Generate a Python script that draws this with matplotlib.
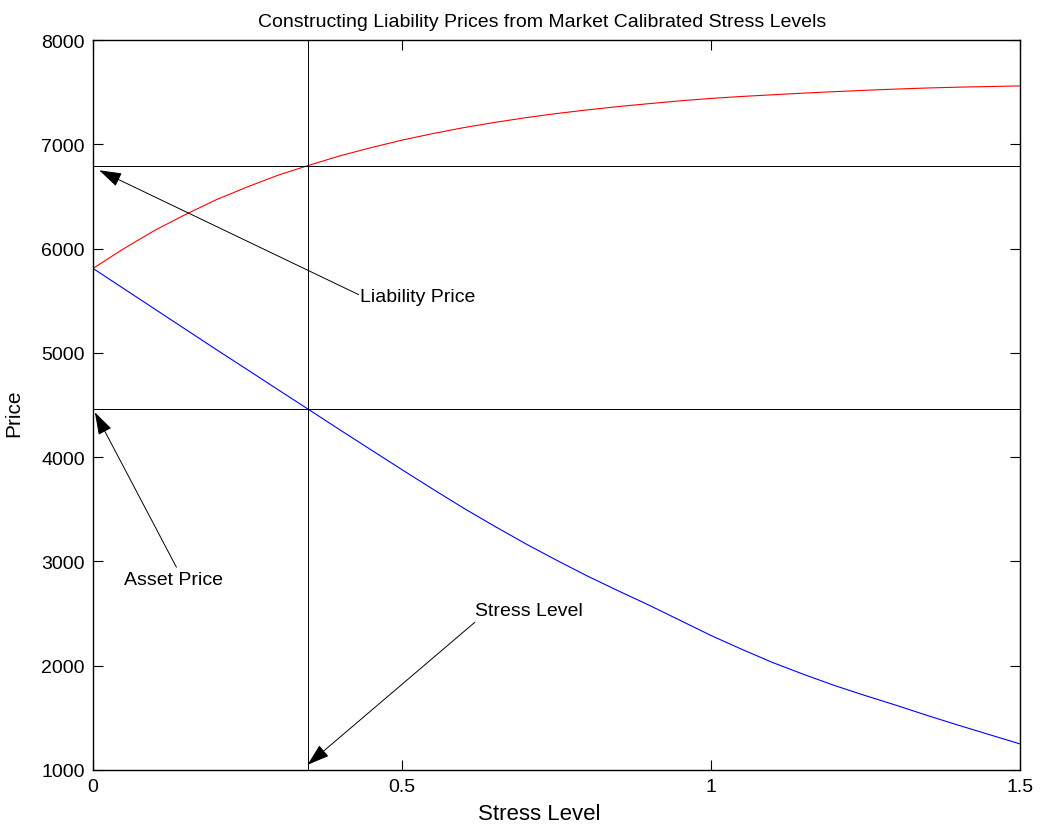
"""
Liability prices constructed from market calibrated stress levels.
Asset price (blue) and liability price (red) against the stress level,
with the calibrated stress level and the two read-off prices marked.
"""

import matplotlib
matplotlib.use("Agg")
import matplotlib.pyplot as plt

# ============================== DATA ==============================
stress = [0.00, 0.05, 0.10, 0.15, 0.20, 0.25, 0.30, 0.35, 0.40, 0.45, 0.50,
          0.55, 0.60, 0.65, 0.70, 0.75, 0.80, 0.85, 0.90, 0.95, 1.00,
          1.05, 1.10, 1.15, 1.20, 1.25, 1.30, 1.35, 1.40, 1.45, 1.50]
liability_price = [5810, 6000, 6175, 6328, 6470, 6592, 6705, 6800, 6890, 6968, 7040,
                   7103, 7160, 7210, 7255, 7295, 7330, 7362, 7390, 7417, 7440,
                   7459, 7475, 7491, 7505, 7518, 7530, 7540, 7548, 7554, 7560]
asset_price = [5810, 5615, 5420, 5225, 5030, 4838, 4645, 4453, 4260, 4070, 3880,
               3693, 3510, 3337, 3170, 3012, 2860, 2718, 2580, 2435, 2290,
               2157, 2030, 1917, 1810, 1713, 1620, 1523, 1430, 1340, 1250]

calibrated_stress = 0.348
calibrated_liability = 6790
market_asset = 4462

# annotations: arrow tip and arrow tail (text sits at the tail)
liab_tip, liab_tail = (0.010, 6751), (0.430, 5558)
asset_tip, asset_tail = (0.003, 4430), (0.135, 2944)
stress_tip, stress_tail = (0.347, 1049), (0.618, 2417)

# ============================== STYLE ==============================
plt.rcParams['font.family'] = ['Liberation Sans', 'DejaVu Sans']
plt.rcParams['xtick.direction'] = 'in'
plt.rcParams['ytick.direction'] = 'in'

fig = plt.figure(figsize=(10.45, 8.29), dpi=100)
ax = fig.add_axes([0.089, 0.070, 0.887, 0.8805])

ax.plot(stress, liability_price, color='#ff0000', linewidth=0.8)
ax.plot(stress, asset_price, color='#0000ff', linewidth=0.8)

# calibration guide lines
ax.axvline(calibrated_stress, color='black', linewidth=0.7)
ax.axhline(calibrated_liability, color='black', linewidth=0.7)
ax.axhline(market_asset, color='black', linewidth=0.7)

arrow = dict(arrowstyle='-|>,head_length=1.0,head_width=0.32', color='black',
             linewidth=0.7, shrinkA=0, shrinkB=0, mutation_scale=14)
for tip, tail in [(liab_tip, liab_tail), (asset_tip, asset_tail), (stress_tip, stress_tail)]:
    ax.annotate('', xy=tip, xytext=tail, arrowprops=arrow)

ax.annotate('Liability Price', xy=liab_tail, xytext=(1, -1), textcoords='offset points',
            fontsize=14, ha='left', va='center')
ax.annotate('Asset Price', xy=asset_tail, xytext=(-2, -3), textcoords='offset points',
            fontsize=14, ha='center', va='top')
ax.annotate('Stress Level', xy=stress_tail, xytext=(0, 2), textcoords='offset points',
            fontsize=14, ha='left', va='bottom')

ax.set_xlim(0, 1.5)
ax.set_ylim(1000, 8000)
ax.set_xticks([0, 0.5, 1, 1.5])
ax.set_xticklabels(['0', '0.5', '1', '1.5'])
ax.set_yticks(range(1000, 8001, 1000))

ax.tick_params(top=True, right=True, length=7, width=0.8, labelsize=14, pad=6)
for s in ax.spines.values():
    s.set_linewidth(1.0)

ax.set_title('Constructing Liability Prices from Market Calibrated Stress Levels',
             fontsize=14, pad=10, x=0.485)
ax.set_xlabel('Stress Level', fontsize=16)
ax.set_ylabel('Price', fontsize=15)
ax.xaxis.set_label_coords(0.481, -0.045)
ax.yaxis.set_label_coords(-0.075, 0.49)

fig.savefig('out.png', dpi=100, facecolor='white')
